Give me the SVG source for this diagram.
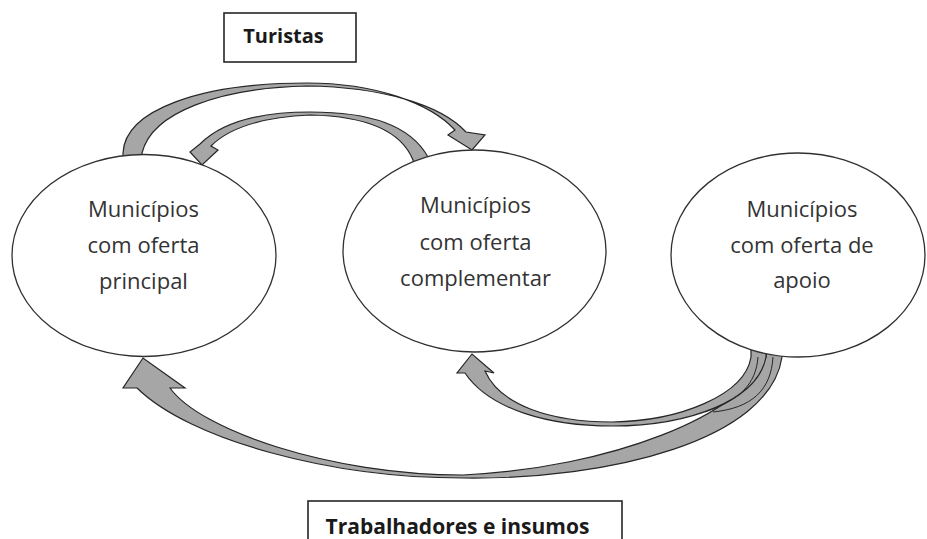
<svg xmlns="http://www.w3.org/2000/svg" width="927" height="539" viewBox="0 0 927 539">
<style>
.arrow{fill:#a6a6a6;stroke:#262626;stroke-width:1.2;stroke-linejoin:miter}
.inner{fill:none;stroke:#262626;stroke-width:1}
.node ellipse{fill:#fff;stroke:#303030;stroke-width:1.3}
.node text{font-family:"Open Sans","Liberation Sans",sans-serif;font-size:22px;fill:#333;text-anchor:middle}
.box rect{fill:#fff;stroke:#262626;stroke-width:1.6}
.box text{font-family:"Open Sans","Liberation Sans",sans-serif;font-weight:bold;fill:#1a1a1a;text-anchor:middle}
</style>
<rect width="927" height="539" fill="#fff"/>
<g id="connectors">
<path id="a-top-outer" class="arrow" d="M123,162 L123,153 C125,110 200,83 307,83 C375,83 430,103 455,130 L448,135 L472,150 L485,135 L466,132 C440,104 380,87 307,86 C220,88 152,112 142,153 L142,162 Z"/>
<path id="a-top-inner" class="arrow" d="M430,163 L428,157 C410,125 370,112 310,112 C260,112 222,122 200,144 L190,152 L202,165 L218,150 L211,146 C230,127 265,117 310,115 C360,116 400,128 413,160 L414,166 Z"/>
<path id="a-bottom-big" class="arrow" d="M782,350 L782,357 C770,440 610,480 463,478 C330,478 190,440 137,388 L123,388 L143,358 L185,388 L170,388 C200,430 330,475 463,475 C610,468 745,415 766,357 L766,350 Z"/>
<path id="a-bottom-small" class="arrow" d="M766,350 L766,357 C758,400 690,426 612,426 C550,426 490,410 465,373 L457,373 L472,354 L494,373 L485,371 C500,405 550,422 612,422 C680,421 745,395 751,357 L751,350 Z"/>
<path class="inner" d="M758,357 C756,384 740,400 705,412"/>
<path class="inner" d="M773,357 C771,390 752,408 713,412"/>
</g>
<g id="node-principal" class="node">
<ellipse cx="144" cy="255.5" rx="132" ry="101"/>
<text x="143.5" y="217">Municípios</text>
<text x="143.5" y="253">com oferta</text>
<text x="143.5" y="289">principal</text>
</g>
<g id="node-complementar" class="node">
<ellipse cx="474.5" cy="251" rx="131.5" ry="101"/>
<text x="475.5" y="213">Municípios</text>
<text x="475.5" y="250">com oferta</text>
<text x="475.5" y="286">complementar</text>
</g>
<g id="node-apoio" class="node">
<ellipse cx="798" cy="255" rx="127" ry="102"/>
<text x="802" y="217">Municípios</text>
<text x="802" y="253">com oferta de</text>
<text x="802" y="288">apoio</text>
</g>
<g id="label-turistas" class="box">
<rect x="224" y="13" width="132" height="49"/>
<text x="283.5" y="43" font-size="20">Turistas</text>
</g>
<g id="label-trabalhadores" class="box">
<rect x="308" y="501" width="314" height="50"/>
<text x="457.5" y="534" font-size="21">Trabalhadores e insumos</text>
</g>
</svg>
